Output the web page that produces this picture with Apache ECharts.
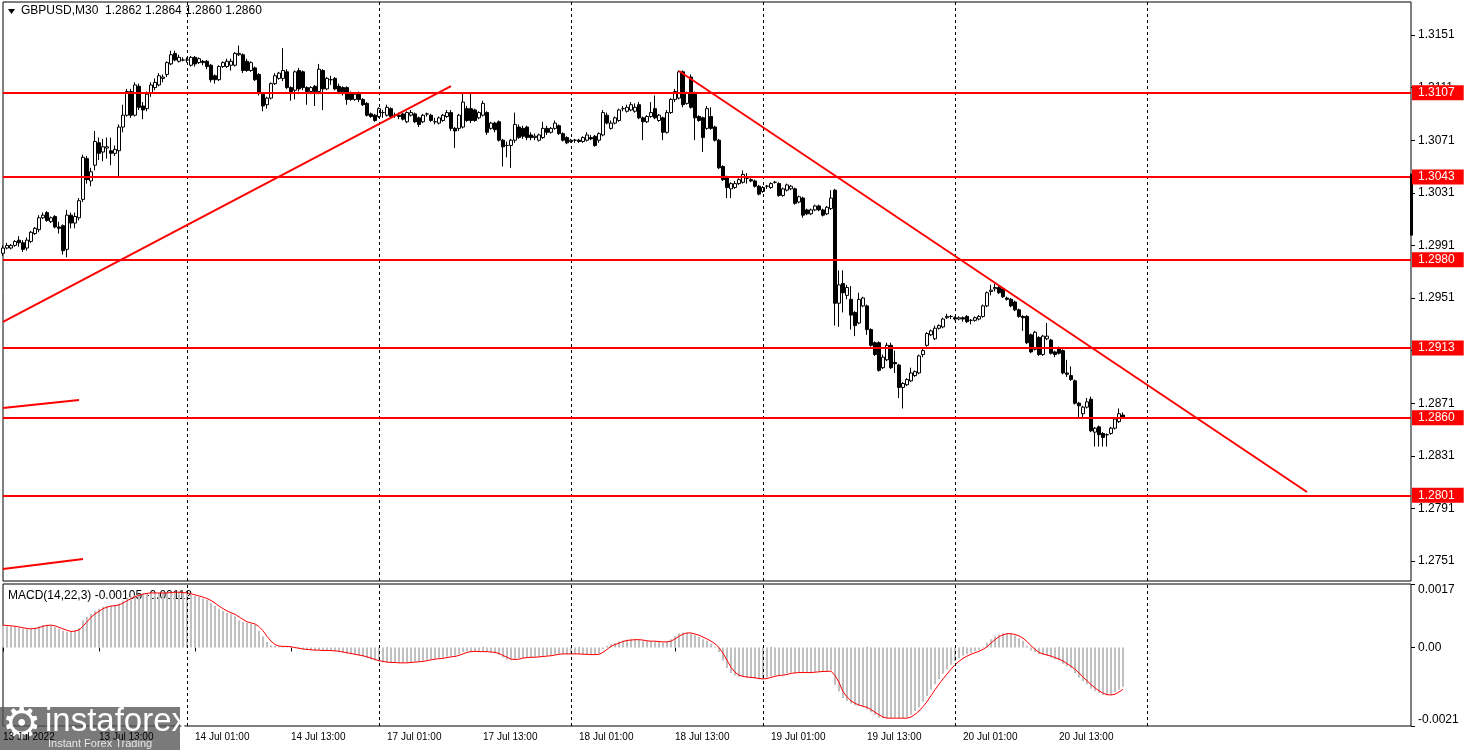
<!DOCTYPE html>
<html><head><meta charset="utf-8">
<script src="https://cdn.jsdelivr.net/npm/echarts@6/dist/echarts.min.js"></script>
<style>html,body{margin:0;padding:0;background:#fff}#c{width:1468px;height:750px}</style>
</head><body><div id="c"></div>
<script>
// ---------- texts ----------
const symbolTitle = 'GBPUSD,M30  1.2862 1.2864 1.2860 1.2860';
const macdTitle = 'MACD(14,22,3) -0.00105 -0.00112';
const startLabel = '13 Jul 2022';
const dayNames = ['13 Jul','14 Jul','17 Jul','18 Jul','19 Jul','20 Jul','21 Jul','24 Jul'];
const xLabelIndex = [0,24,48,72,96,120,144,168,192,216,240,264];
const separatorIndex = [46,94,142,190,238,286];
const priceTicks = [1.2751,1.2791,1.2831,1.2871,1.2911,1.2951,1.2991,1.3031,1.3071,1.3111,1.3151];
const macdTicks = [0.0017,0,-0.0021];
const levels = [1.3107,1.3043,1.2980,1.2913,1.2860,1.2801];
// trend lines: [startIndex, startPrice, endIndex, endPrice]
const trendLines = [
  [0,1.29328,112,1.31122],
  [169,1.31236,326,1.28035],
  [0,1.28674,19,1.28734],
  [0,1.27449,20,1.27525]
];
// price-scale marker on the right edge: [index, top price, bottom price]
const scaleMarker = [352,1.30455,1.29985];

// ---------- candles [open, close, low, high] ----------
const c13 = [
[1.2985,1.2989,1.2983,1.2991],[1.2989,1.2991,1.2988,1.2993],[1.2989,1.2991,1.2988,1.2992],[1.2991,1.2994,1.2990,1.2995],
[1.2995,1.2993,1.2990,1.2998],[1.2993,1.2988,1.2986,1.2995],[1.2989,1.2995,1.2987,1.2997],[1.2994,1.3001,1.2993,1.3002],
[1.3000,1.3004,1.2999,1.3005],[1.3003,1.3012,1.3001,1.3014],[1.3012,1.3014,1.3011,1.3016],[1.3016,1.3010,1.3009,1.3017],
[1.3009,1.3012,1.3008,1.3013],[1.3013,1.3005,1.3004,1.3014],[1.3005,1.3004,1.3000,1.3009],[1.3006,1.2987,1.2984,1.3007],
[1.2988,1.3014,1.2982,1.3018],[1.3014,1.3008,1.3004,1.3016],[1.3008,1.3013,1.3004,1.3016],[1.3012,1.3025,1.3010,1.3027],
[1.3026,1.3058,1.3024,1.3060],[1.3057,1.3041,1.3038,1.3059],[1.3040,1.3047,1.3036,1.3050],[1.3052,1.3070,1.3048,1.3078],
[1.3069,1.3061,1.3056,1.3073],[1.3062,1.3066,1.3055,1.3072],[1.3065,1.3066,1.3057,1.3073],[1.3063,1.3061,1.3052,1.3073],
[1.3061,1.3064,1.3059,1.3067],[1.3063,1.3081,1.3043,1.3083],[1.3081,1.3090,1.3077,1.3098],[1.3090,1.3108,1.3089,1.3110],
[1.3108,1.3090,1.3088,1.3110],[1.3090,1.3113,1.3089,1.3115],[1.3112,1.3096,1.3094,1.3114],[1.3097,1.3094,1.3087,1.3100],
[1.3095,1.3106,1.3093,1.3108],[1.3107,1.3113,1.3104,1.3115],[1.3111,1.3115,1.3109,1.3118],[1.3113,1.3120,1.3112,1.3122],
[1.3118,1.3119,1.3115,1.3121],[1.3121,1.3130,1.3119,1.3131],[1.3129,1.3136,1.3128,1.3139],[1.3137,1.3132,1.3131,1.3139],
[1.3131,1.3134,1.3130,1.3136],[1.3132,1.3132,1.3131,1.3134]
];
const c14 = [
[1.3132,1.3132,1.3130,1.3134],[1.3128,1.3134,1.3127,1.3135],[1.3134,1.3129,1.3127,1.3135],[1.3130,1.3133,1.3129,1.3134],
[1.3131,1.3130,1.3128,1.3132],[1.3131,1.3127,1.3125,1.3132],[1.3128,1.3117,1.3115,1.3129],[1.3120,1.3117,1.3114,1.3121],
[1.3117,1.3127,1.3116,1.3128],[1.3127,1.3130,1.3126,1.3131],[1.3127,1.3131,1.3126,1.3133],[1.3128,1.3131,1.3124,1.3133],
[1.3128,1.3137,1.3127,1.3138],[1.3136,1.3137,1.3135,1.3143],[1.3136,1.3124,1.3122,1.3137],[1.3131,1.3124,1.3123,1.3133],
[1.3124,1.3130,1.3123,1.3131],[1.3126,1.3117,1.3116,1.3127],[1.3121,1.3107,1.3105,1.3122],[1.3106,1.3097,1.3093,1.3107],
[1.3098,1.3103,1.3095,1.3104],[1.3103,1.3114,1.3102,1.3115],[1.3114,1.3120,1.3113,1.3122],[1.3118,1.3122,1.3117,1.3123],
[1.3118,1.3124,1.3116,1.3141],[1.3123,1.3111,1.3110,1.3125],[1.3111,1.3108,1.3101,1.3112],[1.3109,1.3123,1.3102,1.3124],
[1.3124,1.3110,1.3108,1.3126],[1.3123,1.3111,1.3109,1.3124],[1.3111,1.3108,1.3098,1.3112],[1.3108,1.3111,1.3106,1.3112],
[1.3112,1.3108,1.3097,1.3113],[1.3108,1.3125,1.3106,1.3129],[1.3124,1.3110,1.3094,1.3125],[1.3110,1.3118,1.3109,1.3119],
[1.3117,1.3117,1.3113,1.3120],[1.3118,1.3110,1.3109,1.3119],[1.3112,1.3108,1.3106,1.3114],[1.3111,1.3107,1.3105,1.3112],
[1.3111,1.3102,1.3098,1.3112],[1.3107,1.3102,1.3101,1.3108],[1.3102,1.3106,1.3101,1.3107],[1.3106,1.3102,1.3100,1.3108],
[1.3102,1.3098,1.3097,1.3103],[1.3099,1.3090,1.3089,1.3100],[1.3091,1.3089,1.3088,1.3092],[1.3090,1.3086,1.3085,1.3091]
];
const c17 = [
[1.3089,1.3095,1.3088,1.3096],[1.3092,1.3092,1.3088,1.3094],[1.3090,1.3096,1.3089,1.3098],[1.3095,1.3089,1.3088,1.3096],
[1.3090,1.3090,1.3088,1.3092],[1.3090,1.3089,1.3087,1.3092],[1.3091,1.3087,1.3086,1.3092],[1.3085,1.3092,1.3084,1.3093],
[1.3090,1.3092,1.3089,1.3094],[1.3091,1.3085,1.3084,1.3092],[1.3088,1.3083,1.3081,1.3089],[1.3085,1.3090,1.3084,1.3091],
[1.3091,1.3091,1.3089,1.3092],[1.3090,1.3086,1.3085,1.3091],[1.3085,1.3085,1.3083,1.3088],[1.3084,1.3088,1.3083,1.3089],
[1.3086,1.3090,1.3085,1.3091],[1.3089,1.3092,1.3088,1.3094],[1.3092,1.3080,1.3078,1.3094],[1.3080,1.3078,1.3065,1.3081],
[1.3080,1.3090,1.3078,1.3091],[1.3081,1.3100,1.3080,1.3107],[1.3095,1.3086,1.3085,1.3097],[1.3095,1.3086,1.3084,1.3107],
[1.3094,1.3086,1.3085,1.3095],[1.3088,1.3092,1.3087,1.3093],[1.3090,1.3099,1.3089,1.3101],[1.3092,1.3077,1.3075,1.3093],
[1.3080,1.3084,1.3079,1.3085],[1.3084,1.3079,1.3077,1.3085],[1.3085,1.3071,1.3070,1.3086],[1.3071,1.3066,1.3051,1.3072],
[1.3067,1.3067,1.3058,1.3070],[1.3067,1.3071,1.3050,1.3072],[1.3071,1.3083,1.3069,1.3092],[1.3081,1.3073,1.3072,1.3083],
[1.3080,1.3074,1.3072,1.3082],[1.3081,1.3073,1.3071,1.3082],[1.3075,1.3073,1.3071,1.3077],[1.3073,1.3074,1.3071,1.3076],
[1.3071,1.3075,1.3070,1.3076],[1.3073,1.3080,1.3072,1.3085],[1.3080,1.3077,1.3075,1.3082],[1.3077,1.3080,1.3076,1.3081],
[1.3080,1.3084,1.3079,1.3086],[1.3082,1.3076,1.3075,1.3083],[1.3076,1.3071,1.3070,1.3077],[1.3073,1.3069,1.3068,1.3074]
];
const c18 = [
[1.3070,1.3071,1.3069,1.3072],[1.3071,1.3071,1.3069,1.3072],[1.3071,1.3070,1.3069,1.3072],[1.3070,1.3073,1.3069,1.3074],
[1.3071,1.3075,1.3070,1.3077],[1.3073,1.3072,1.3071,1.3075],[1.3074,1.3067,1.3066,1.3075],[1.3071,1.3076,1.3069,1.3077],
[1.3075,1.3092,1.3074,1.3094],[1.3090,1.3084,1.3083,1.3092],[1.3080,1.3084,1.3079,1.3086],[1.3084,1.3088,1.3083,1.3089],
[1.3086,1.3094,1.3085,1.3095],[1.3095,1.3095,1.3093,1.3097],[1.3093,1.3096,1.3092,1.3098],[1.3094,1.3098,1.3093,1.3100],
[1.3093,1.3096,1.3092,1.3099],[1.3098,1.3088,1.3087,1.3100],[1.3088,1.3085,1.3071,1.3089],[1.3085,1.3089,1.3084,1.3090],
[1.3089,1.3092,1.3088,1.3100],[1.3095,1.3088,1.3087,1.3105],[1.3086,1.3090,1.3085,1.3091],[1.3088,1.3077,1.3071,1.3089],
[1.3077,1.3092,1.3076,1.3094],[1.3092,1.3102,1.3091,1.3103],[1.3102,1.3108,1.3100,1.3110],[1.3103,1.3123,1.3102,1.3124],
[1.3123,1.3098,1.3096,1.3124],[1.3099,1.3107,1.3098,1.3108],[1.3119,1.3096,1.3095,1.3121],[1.3107,1.3088,1.3071,1.3108],
[1.3089,1.3086,1.3085,1.3090],[1.3088,1.3073,1.3062,1.3089],[1.3080,1.3095,1.3079,1.3097],[1.3089,1.3080,1.3079,1.3096],
[1.3081,1.3071,1.3070,1.3082],[1.3071,1.3050,1.3049,1.3072],[1.3051,1.3041,1.3040,1.3052],[1.3043,1.3035,1.3027,1.3044],
[1.3034,1.3038,1.3027,1.3039],[1.3035,1.3038,1.3034,1.3040],[1.3038,1.3041,1.3037,1.3042],[1.3039,1.3045,1.3038,1.3048],
[1.3042,1.3042,1.3038,1.3046],[1.3041,1.3040,1.3039,1.3042],[1.3040,1.3036,1.3035,1.3041],[1.3036,1.3030,1.3029,1.3037]
];
const c19 = [
[1.3032,1.3035,1.3031,1.3036],[1.3036,1.3036,1.3034,1.3037],[1.3035,1.3038,1.3034,1.3039],[1.3039,1.3039,1.3038,1.3040],
[1.3038,1.3029,1.3028,1.3039],[1.3029,1.3034,1.3028,1.3035],[1.3033,1.3037,1.3032,1.3038],[1.3034,1.3036,1.3033,1.3037],
[1.3034,1.3023,1.3022,1.3035],[1.3024,1.3028,1.3023,1.3029],[1.3027,1.3014,1.3012,1.3028],[1.3018,1.3015,1.3014,1.3019],
[1.3015,1.3018,1.3014,1.3019],[1.3018,1.3021,1.3017,1.3022],[1.3021,1.3018,1.3017,1.3022],[1.3018,1.3014,1.3013,1.3019],
[1.3015,1.3020,1.3014,1.3021],[1.3019,1.3027,1.3018,1.3033],[1.3033,1.2947,1.2930,1.3034],[1.2947,1.2961,1.2929,1.2972],
[1.2962,1.2955,1.2940,1.2972],[1.2953,1.2959,1.2950,1.2961],[1.2950,1.2938,1.2927,1.2960],[1.2940,1.2930,1.2922,1.2941],
[1.2932,1.2950,1.2931,1.2955],[1.2945,1.2951,1.2944,1.2952],[1.2945,1.2927,1.2923,1.2946],[1.2927,1.2915,1.2914,1.2928],
[1.2917,1.2908,1.2907,1.2918],[1.2917,1.2896,1.2895,1.2918],[1.2898,1.2906,1.2897,1.2908],[1.2904,1.2915,1.2903,1.2917],
[1.2915,1.2898,1.2897,1.2917],[1.2902,1.2901,1.2894,1.2911],[1.2900,1.2883,1.2875,1.2901],[1.2883,1.2886,1.2867,1.2887],
[1.2885,1.2889,1.2884,1.2890],[1.2888,1.2894,1.2887,1.2898],[1.2892,1.2895,1.2891,1.2896],[1.2894,1.2907,1.2893,1.2908],
[1.2908,1.2911,1.2906,1.2913],[1.2915,1.2924,1.2914,1.2925],[1.2923,1.2926,1.2922,1.2927],[1.2920,1.2928,1.2919,1.2930],
[1.2928,1.2930,1.2927,1.2931],[1.2929,1.2935,1.2928,1.2936],[1.2936,1.2937,1.2935,1.2939],[1.2937,1.2937,1.2935,1.2938]
];
const c20 = [
[1.2936,1.2935,1.2934,1.2937],[1.2935,1.2936,1.2934,1.2937],[1.2936,1.2935,1.2933,1.2937],[1.2937,1.2933,1.2932,1.2938],
[1.2934,1.2934,1.2931,1.2935],[1.2934,1.2936,1.2933,1.2937],[1.2935,1.2937,1.2934,1.2938],[1.2937,1.2945,1.2936,1.2946],
[1.2945,1.2955,1.2944,1.2956],[1.2956,1.2957,1.2953,1.2961],[1.2958,1.2959,1.2956,1.2962],[1.2959,1.2955,1.2954,1.2960],
[1.2958,1.2952,1.2951,1.2959],[1.2951,1.2950,1.2949,1.2952],[1.2950,1.2945,1.2944,1.2951],[1.2948,1.2942,1.2941,1.2949],
[1.2942,1.2937,1.2936,1.2943],[1.2937,1.2936,1.2926,1.2938],[1.2937,1.2917,1.2916,1.2938],[1.2923,1.2910,1.2909,1.2924],
[1.2912,1.2925,1.2911,1.2926],[1.2921,1.2908,1.2907,1.2922],[1.2908,1.2922,1.2907,1.2923],[1.2920,1.2922,1.2919,1.2932],
[1.2919,1.2909,1.2908,1.2920],[1.2910,1.2908,1.2906,1.2911],[1.2913,1.2909,1.2908,1.2914],[1.2911,1.2894,1.2893,1.2912],
[1.2894,1.2893,1.2891,1.2904],[1.2892,1.2889,1.2888,1.2899],[1.2888,1.2871,1.2870,1.2889],[1.2871,1.2869,1.2860,1.2872],
[1.2863,1.2868,1.2860,1.2869],[1.2868,1.2872,1.2867,1.2875],[1.2874,1.2850,1.2849,1.2876],[1.2849,1.2852,1.2838,1.2853],
[1.2853,1.2847,1.2838,1.2854],[1.2848,1.2845,1.2838,1.2849],[1.2847,1.2847,1.2838,1.2848],[1.2848,1.2852,1.2847,1.2853],
[1.2852,1.2859,1.2851,1.2860],[1.2857,1.2863,1.2856,1.2867],[1.2862,1.2860,1.2860,1.2864]
];

// ---------- MACD main (histogram) ----------
const m13 = [0.00058,0.00057,0.00056,0.00055,0.00052,0.00050,0.00049,0.00050,0.00053,0.00057,
0.00060,0.00061,0.00058,0.00054,0.00050,0.00045,0.00042,0.00043,0.00046,0.00052,
0.00072,0.00082,0.00090,0.00098,0.00104,0.00109,0.00111,0.00112,0.00113,0.00118,
0.00125,0.00132,0.00136,0.00140,0.00143,0.00145,0.00146,0.00146,0.00146,0.00146,
0.00146,0.00147,0.00148,0.00148,0.00147,0.00146];
const m14 = [0.00144,0.00141,0.00138,0.00135,0.00131,0.00127,0.00119,0.00111,0.00104,0.00098,
0.00093,0.00089,0.00084,0.00072,0.00068,0.00066,0.00063,0.00060,0.00045,0.00030,
0.00015,0.00006,0.00004,0.00003,0.00003,0.00002,0.00001,-0.00002,-0.00004,-0.00005,
-0.00006,-0.00007,-0.00008,-0.00007,-0.00008,-0.00008,-0.00009,-0.00010,-0.00012,-0.00014,
-0.00016,-0.00018,-0.00020,-0.00022,-0.00025,-0.00028,-0.00032,-0.00035];
const m17 = [-0.00038,-0.00040,-0.00040,-0.00041,-0.00041,-0.00041,-0.00041,-0.00040,-0.00039,-0.00038,
-0.00037,-0.00035,-0.00033,-0.00031,-0.00030,-0.00029,-0.00027,-0.00025,-0.00024,-0.00022,
-0.00018,-0.00012,-0.00010,-0.00010,-0.00011,-0.00011,-0.00010,-0.00012,-0.00013,-0.00015,
-0.00020,-0.00027,-0.00032,-0.00034,-0.00030,-0.00028,-0.00027,-0.00026,-0.00026,-0.00025,
-0.00025,-0.00023,-0.00022,-0.00020,-0.00018,-0.00017,-0.00017,-0.00018];
const m18 = [-0.00017,-0.00017,-0.00018,-0.00019,-0.00019,-0.00019,-0.00020,-0.00015,-0.00004,0.00004,
0.00008,0.00012,0.00016,0.00019,0.00021,0.00022,0.00022,0.00020,0.00018,0.00017,
0.00017,0.00016,0.00015,0.00013,0.00016,0.00022,0.00030,0.00038,0.00040,0.00039,
0.00037,0.00033,0.00028,0.00022,0.00018,0.00010,0.00002,-0.00012,-0.00035,-0.00055,
-0.00068,-0.00075,-0.00078,-0.00079,-0.00080,-0.00081,-0.00083,-0.00085];
const m19 = [-0.00083,-0.00080,-0.00077,-0.00075,-0.00074,-0.00072,-0.00069,-0.00067,-0.00068,-0.00067,
-0.00068,-0.00067,-0.00066,-0.00065,-0.00064,-0.00064,-0.00063,-0.00061,-0.00100,-0.00118,
-0.00135,-0.00143,-0.00150,-0.00155,-0.00156,-0.00160,-0.00165,-0.00173,-0.00180,-0.00188,
-0.00189,-0.00189,-0.00189,-0.00188,-0.00189,-0.00190,-0.00187,-0.00180,-0.00170,-0.00160,
-0.00145,-0.00130,-0.00112,-0.00098,-0.00085,-0.00070,-0.00058,-0.00046];
const m20 = [-0.00036,-0.00028,-0.00022,-0.00018,-0.00014,-0.00010,-0.00006,0.00002,0.00012,0.00022,
0.00030,0.00035,0.00038,0.00038,0.00036,0.00032,0.00025,0.00018,0.00005,-0.00008,
-0.00012,-0.00018,-0.00020,-0.00022,-0.00027,-0.00031,-0.00034,-0.00044,-0.00050,-0.00055,
-0.00068,-0.00080,-0.00090,-0.00098,-0.00110,-0.00117,-0.00122,-0.00127,-0.00128,-0.00126,
-0.00120,-0.00112,-0.00105];

// ---------- MACD signal ----------
const s13 = [0.00060,0.00059,0.00058,0.00057,0.00055,0.00053,0.00051,0.00050,0.00051,0.00053,
0.00057,0.00059,0.00060,0.00058,0.00054,0.00050,0.00046,0.00043,0.00044,0.00047,
0.00057,0.00069,0.00081,0.00090,0.00097,0.00104,0.00108,0.00111,0.00112,0.00114,
0.00119,0.00125,0.00131,0.00136,0.00140,0.00143,0.00145,0.00146,0.00146,0.00146,
0.00146,0.00146,0.00147,0.00148,0.00148,0.00147];
const s14 = [0.00146,0.00144,0.00141,0.00138,0.00135,0.00131,0.00126,0.00119,0.00111,0.00104,
0.00098,0.00093,0.00089,0.00082,0.00075,0.00069,0.00066,0.00063,0.00056,0.00045,
0.00030,0.00017,0.00008,0.00004,0.00003,0.00003,0.00002,0.00000,-0.00002,-0.00004,
-0.00005,-0.00006,-0.00007,-0.00007,-0.00008,-0.00008,-0.00008,-0.00009,-0.00010,-0.00012,
-0.00014,-0.00016,-0.00018,-0.00020,-0.00022,-0.00025,-0.00028,-0.00032];
const s17 = [-0.00035,-0.00037,-0.00039,-0.00040,-0.00040,-0.00041,-0.00041,-0.00041,-0.00040,-0.00039,
-0.00038,-0.00037,-0.00035,-0.00033,-0.00031,-0.00030,-0.00029,-0.00027,-0.00025,-0.00024,
-0.00021,-0.00017,-0.00013,-0.00011,-0.00010,-0.00011,-0.00011,-0.00011,-0.00012,-0.00013,
-0.00016,-0.00021,-0.00026,-0.00031,-0.00032,-0.00031,-0.00028,-0.00027,-0.00026,-0.00026,
-0.00025,-0.00024,-0.00023,-0.00022,-0.00020,-0.00018,-0.00017,-0.00017];
const s18 = [-0.00017,-0.00017,-0.00017,-0.00018,-0.00018,-0.00019,-0.00019,-0.00018,-0.00013,-0.00005,
0.00003,0.00008,0.00012,0.00016,0.00019,0.00020,0.00021,0.00021,0.00020,0.00018,
0.00017,0.00017,0.00016,0.00015,0.00015,0.00017,0.00023,0.00030,0.00036,0.00039,
0.00039,0.00036,0.00033,0.00028,0.00023,0.00017,0.00010,0.00000,-0.00015,-0.00034,
-0.00053,-0.00066,-0.00074,-0.00077,-0.00079,-0.00080,-0.00081,-0.00083];
const s19 = [-0.00084,-0.00083,-0.00080,-0.00077,-0.00075,-0.00074,-0.00072,-0.00069,-0.00068,-0.00067,
-0.00067,-0.00067,-0.00067,-0.00066,-0.00065,-0.00064,-0.00064,-0.00063,-0.00075,-0.00093,
-0.00118,-0.00132,-0.00143,-0.00149,-0.00154,-0.00157,-0.00160,-0.00166,-0.00173,-0.00180,
-0.00186,-0.00189,-0.00189,-0.00189,-0.00189,-0.00189,-0.00189,-0.00186,-0.00179,-0.00170,
-0.00158,-0.00145,-0.00129,-0.00113,-0.00098,-0.00084,-0.00071,-0.00058];
const s20 = [-0.00046,-0.00037,-0.00029,-0.00023,-0.00018,-0.00014,-0.00010,-0.00005,0.00002,0.00012,
0.00021,0.00029,0.00034,0.00037,0.00037,0.00035,0.00031,0.00025,0.00016,0.00005,
-0.00005,-0.00013,-0.00017,-0.00020,-0.00023,-0.00027,-0.00031,-0.00036,-0.00043,-0.00050,
-0.00058,-0.00068,-0.00079,-0.00089,-0.00099,-0.00108,-0.00116,-0.00122,-0.00126,-0.00127,
-0.00125,-0.00119,-0.00112];

// ---------- build ----------
const candles = [].concat(c13, c14, c17, c18, c19, c20);
const macdMain = [].concat(m13, m14, m17, m18, m19, m20);
const macdSignal = [].concat(s13, s14, s17, s18, s19, s20);
const N = 353;
const times = [];
for (let i = 0; i < N; i++) {
  let d, m;
  if (i < 46) { d = 0; m = 60 + i * 30; } else { d = 1 + Math.floor((i - 46) / 48); m = ((i - 46) % 48) * 30; }
  times.push(dayNames[d] + ' ' + String(Math.floor(m / 60)).padStart(2, '0') + ':' + String(m % 60).padStart(2, '0'));
}

const FONT = '"Liberation Sans", Arial, sans-serif';
const sepStyle = { color: '#000', width: 1, type: [3, 3] };
const makeSeps = () => separatorIndex.map(i => ({ xAxis: times[i], lineStyle: sepStyle, label: { show: false } }));
const levelLines = levels.map(v => ({
  yAxis: v,
  lineStyle: { color: '#ff0000', width: 2, type: 'solid' },
  label: { show: true, position: 'end', formatter: v.toFixed(4), color: '#fff', backgroundColor: '#ff0000',
           padding: [2, 9, 1, 6], fontSize: 12, fontFamily: FONT, distance: 1 }
}));
const trendStyle = { color: '#ff0000', width: 2, type: 'solid' };
const trendItems = trendLines.map(t => [
  { coord: [times[t[0]], t[1]], lineStyle: trendStyle, label: { show: false } },
  { coord: [times[t[2]], t[3]], lineStyle: trendStyle, label: { show: false } }
]);
const markerStyle = { color: '#000', width: 3, type: 'solid' };
const markerItem = [[
  { coord: [times[scaleMarker[0]], scaleMarker[1]], lineStyle: markerStyle, label: { show: false } },
  { coord: [times[scaleMarker[0]], scaleMarker[2]], lineStyle: markerStyle, label: { show: false } }
]];

const yMax = 1.3176095, yMin = 1.2735795;

const chart = echarts.init(document.getElementById('c'), null, { renderer: 'canvas' });
chart.setOption({
  animation: false,
  backgroundColor: '#fff',
  grid: [
    { left: 3, top: 2, width: 1408, height: 579, show: true, borderColor: '#000', borderWidth: 1, backgroundColor: '#fff' },
    { left: 3, top: 584, width: 1408, height: 142, show: true, borderColor: '#000', borderWidth: 1, backgroundColor: '#fff' }
  ],
  xAxis: [
    { type: 'category', gridIndex: 0, data: times, boundaryGap: false,
      axisLine: { show: false }, axisTick: { show: false }, axisLabel: { show: false }, splitLine: { show: false } },
    { type: 'category', gridIndex: 1, data: times, boundaryGap: false,
      axisLine: { show: false },
      axisTick: { show: true, length: 4, lineStyle: { color: '#000' }, interval: (idx) => xLabelIndex.includes(idx) },
      axisLabel: { show: true, color: '#000', fontSize: 10, fontFamily: FONT, align: 'left', margin: 6,
                   interval: (idx) => xLabelIndex.includes(idx),
                   formatter: (val, idx) => idx === 0 ? startLabel : val },
      splitLine: { show: false } }
  ],
  yAxis: [
    { type: 'value', gridIndex: 0, position: 'right', min: yMin, max: yMax,
      axisLine: { show: false }, splitLine: { show: false },
      axisTick: { show: true, length: 4, customValues: priceTicks, lineStyle: { color: '#000' } },
      axisLabel: { show: true, customValues: priceTicks, formatter: v => v.toFixed(4), color: '#000',
                   fontSize: 12, fontFamily: FONT, margin: 7 } },
    { type: 'value', gridIndex: 1, position: 'right', min: -0.0021, max: 0.0017,
      axisLine: { show: false }, splitLine: { show: false },
      axisTick: { show: true, length: 4, customValues: macdTicks, lineStyle: { color: '#000' } },
      axisLabel: { show: true, customValues: macdTicks, color: '#000', fontSize: 12, fontFamily: FONT, margin: 7,
                   formatter: v => Math.abs(v) < 1e-9 ? '0.00' : v.toFixed(4),
                   verticalAlignMaxLabel: 'bottom', verticalAlignMinLabel: 'top' } }
  ],
  series: [
    { type: 'candlestick', xAxisIndex: 0, yAxisIndex: 0, data: candles, barWidth: 3,
      itemStyle: { color: '#fff', color0: '#000', borderColor: '#000', borderColor0: '#000', borderWidth: 1 },
      markLine: { silent: true, precision: 6, symbol: ['none', 'none'], animation: false,
                  data: [].concat(makeSeps(), levelLines, trendItems, markerItem) } },
    { type: 'bar', xAxisIndex: 1, yAxisIndex: 1, data: macdMain, barWidth: 2,
      itemStyle: { color: '#c0c0c0' },
      markLine: { silent: true, precision: 6, symbol: ['none', 'none'], animation: false, data: makeSeps() } },
    { type: 'line', xAxisIndex: 1, yAxisIndex: 1, data: macdSignal, showSymbol: false, symbol: 'none',
      lineStyle: { color: '#ff0000', width: 1 } }
  ],
  graphic: [
    { type: 'polygon', shape: { points: [[8, 9], [15, 9], [11.5, 14]] }, style: { fill: '#000' } },
    { type: 'text', left: 21, top: 5, style: { text: symbolTitle, font: '12px "Liberation Sans"', fill: '#000' } },
    { type: 'text', left: 8, top: 590, style: { text: macdTitle, font: '12px "Liberation Sans"', fill: '#000' } },
    { type: 'group', left: 0, top: 705, children: [
      { type: 'rect', shape: { x: 0, y: 0, width: 180, height: 45 }, style: { fill: 'rgba(85,85,85,0.78)' } },
      { type: 'text', x: 2, y: -2, style: { text: '⚙', font: '44px "DejaVu Sans"', fill: '#fff' } },
      { type: 'text', x: 45, y: -2, style: { text: 'instaforex', font: '33px "Liberation Sans"', fill: '#fff' } },
      { type: 'text', x: 48, y: 31, style: { text: 'Instant Forex Trading', font: '11px "Liberation Sans"', fill: '#e8e8e8' } }
    ] }
  ]
});
</script>
</body></html>
